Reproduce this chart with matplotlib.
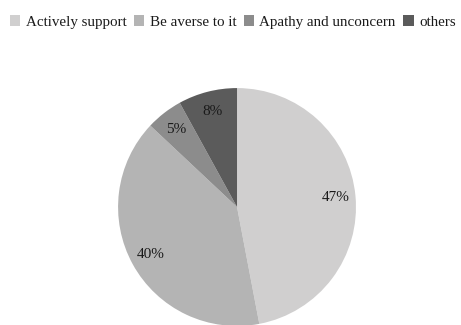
import matplotlib
matplotlib.use("Agg")
import matplotlib.pyplot as plt

plt.rcParams.update({"font.family": ["Liberation Serif", "DejaVu Serif"]})

labels = ["Actively support", "Be averse to it", "Apathy and unconcern", "others"]
shares = [47, 40, 5, 8]
colors = ["#d0cfcf", "#b4b4b4", "#8c8c8c", "#5b5b5b"]

fig = plt.figure(figsize=(4.61, 3.25), dpi=100)
ax = fig.add_axes([0.256, -0.003, 0.5163, 0.732])
wedges, texts, autotexts = ax.pie(
    shares, colors=colors, startangle=90, counterclock=False,
    autopct="%d%%", pctdistance=0.83,
    textprops={"fontsize": 11, "color": "#1a1a1a"},
    wedgeprops={"linewidth": 0},
)
ax.set_xlim(-1, 1)
ax.set_ylim(-1, 1)
ax.set_aspect("equal")

fig.legend(wedges, labels, loc="upper center", bbox_to_anchor=(0.505, 0.985),
           ncol=4, frameon=False, fontsize=10.8, handlelength=0.7,
           handleheight=0.7, handletextpad=0.35, columnspacing=0.5,
           borderaxespad=0.3, labelcolor="#1a1a1a")

fig.savefig("out.png", dpi=100, facecolor="white")
plt.close(fig)
